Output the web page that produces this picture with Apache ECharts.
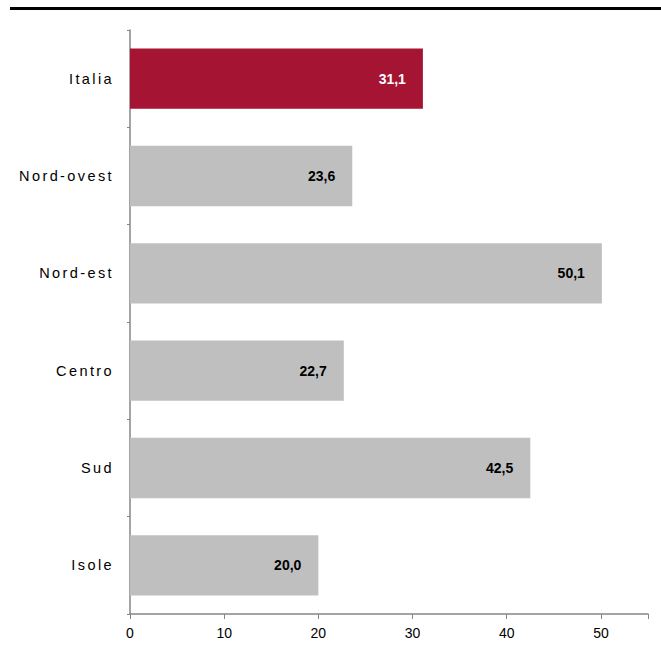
<!DOCTYPE html>
<html><head><meta charset="utf-8">
<script src="https://cdn.jsdelivr.net/npm/echarts@6/dist/echarts.min.js"></script>
<style>html,body{margin:0;padding:0;background:#fff}#c{width:661px;height:654px}
#c text[style*="14.5px"]{letter-spacing:2.4px}</style>
</head><body><div id="c"></div>
<script>
const categories = ["Italia", "Nord-ovest", "Nord-est", "Centro", "Sud", "Isole"];
const values = [31.1, 23.6, 50.1, 22.7, 42.5, 20.0];
const highlight = "Italia";
const xTicks = [0, 10, 20, 30, 40, 50];

const chart = echarts.init(document.getElementById('c'), null, { renderer: 'svg' });
const font = "'Liberation Sans', Arial, sans-serif";
chart.setOption({
  animation: false,
  graphic: [{ type: 'rect', shape: { x: 10, y: 7, width: 651, height: 3 }, style: { fill: '#000' } }],
  grid: { left: 130, right: 13, top: 30, bottom: 40, containLabel: false },
  xAxis: {
    type: 'value', min: 0, max: 55, interval: 10,
    axisLine: { show: true, lineStyle: { color: '#868686', width: 1.5 } },
    axisTick: { show: true, length: 5, lineStyle: { color: '#868686' } },
    splitLine: { show: false },
    axisLabel: { color: '#000', fontFamily: font, fontSize: 14, margin: 12,
      formatter: v => xTicks.includes(v) ? String(v) : '' }
  },
  yAxis: {
    type: 'category', data: categories, inverse: true,
    axisLine: { show: true, lineStyle: { color: '#868686', width: 1.5 } },
    axisTick: { show: true, length: 3, lineStyle: { color: '#868686' } },
    axisLabel: { color: '#000', fontFamily: font, fontSize: 14.5, margin: 16 }
  },
  series: [{
    type: 'bar', barCategoryGap: '38%',
    data: categories.map((c, i) => ({
      value: values[i],
      itemStyle: { color: c === highlight ? '#A51432' : '#BFBFBF' },
      label: { color: c === highlight ? '#fff' : '#000' }
    })),
    label: { show: true, position: 'insideRight', distance: 17, fontWeight: 'bold',
      fontFamily: font, fontSize: 14,
      formatter: p => p.value.toFixed(1).replace('.', ',') }
  }]
});
</script></body></html>
